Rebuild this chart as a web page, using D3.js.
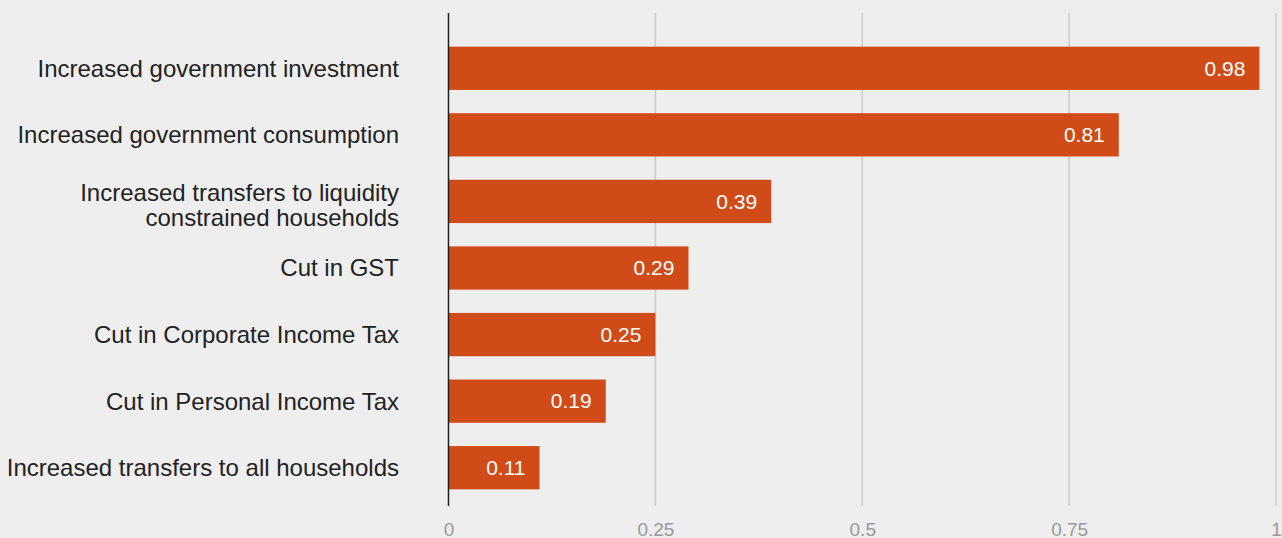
<!DOCTYPE html>
<html>
<head>
<meta charset="utf-8">
<script src="https://cdn.jsdelivr.net/npm/d3@7"></script>
<style>
  body { margin: 0; background: #eeeeee; }
  svg { display: block; font-family: "Liberation Sans", Arial, sans-serif; }
</style>
</head>
<body>
<svg></svg>
<script>
const categories = [
    ["Increased government investment"],
    ["Increased government consumption"],
    ["Increased transfers to liquidity", "constrained households"],
    ["Cut in GST"],
    ["Cut in Corporate Income Tax"],
    ["Cut in Personal Income Tax"],
    ["Increased transfers to all households"]
];
const values = [0.98, 0.81, 0.39, 0.29, 0.25, 0.19, 0.11];
const tickValues = [0, 0.25, 0.5, 0.75, 1];
const tickLabels = ["0", "0.25", "0.5", "0.75", "1"];

const width = 1282, height = 538;

let svg = d3.select('svg')
    .attr('width', width)
    .attr('height', height)
    .style('background-color', '#eeeeee');

let x = d3.scaleLinear()
    .domain([0, 1])
    .range([448.5, 1276]);

let y = d3.scaleBand()
    .domain(d3.range(values.length))
    .range([35, 501])
    .paddingInner(0.35)
    .paddingOuter(0.175);

// grid lines
svg.append('g')
    .selectAll('line')
    .data(tickValues.slice(1))
    .enter().append('line')
    .attr('x1', d => x(d))
    .attr('x2', d => x(d))
    .attr('y1', 13)
    .attr('y2', 506)
    .style('stroke', '#cccccc')
    .style('stroke-width', 1.5);

// x axis labels
let xAxis = svg.append('g')
    .attr('transform', `translate(0, ${522})`)
    .call(d3.axisBottom(x).tickValues(tickValues).tickSize(0).tickPadding(0)
        .tickFormat((d, i) => tickLabels[i]));
xAxis.select('.domain').remove();
xAxis.selectAll('text')
    .attr('font-family', '"Liberation Sans", Arial, sans-serif')
    .attr('font-size', 19)
    .attr('fill', '#999999');

// bars
svg.selectAll('rect.bar')
    .data(values)
    .enter().append('rect')
    .attr('class', 'bar')
    .attr('x', x(0))
    .attr('y', (d, i) => y(i))
    .attr('width', d => x(d) - x(0))
    .attr('height', y.bandwidth())
    .attr('fill', '#d04b17');

// value labels
svg.selectAll('text.value')
    .data(values)
    .enter().append('text')
    .attr('class', 'value')
    .attr('x', d => x(d) - 14)
    .attr('y', (d, i) => y(i) + y.bandwidth() / 2)
    .attr('dy', '0.35em')
    .attr('text-anchor', 'end')
    .attr('font-size', 21)
    .attr('fill', '#ffffff')
    .text(d => d3.format('.2f')(d));

// category labels
let cats = svg.selectAll('text.cat')
    .data(categories)
    .enter().append('text')
    .attr('class', 'cat')
    .attr('text-anchor', 'end')
    .attr('font-size', 24)
    .attr('fill', '#222222');

cats.each(function (lines, i) {
    let cy = y(i) + y.bandwidth() / 2;
    let lineH = 25;
    let top = lines.length > 1 ? cy - (lines.length - 1) * lineH / 2 + 3.5 : cy;
    d3.select(this).selectAll('tspan')
        .data(lines)
        .enter().append('tspan')
        .attr('x', 399)
        .attr('y', (d, j) => top + j * lineH)
        .attr('dy', '0.35em')
        .text(d => d);
});

// zero line
svg.append('line')
    .attr('x1', x(0))
    .attr('x2', x(0))
    .attr('y1', 13)
    .attr('y2', 506)
    .style('stroke', '#222222')
    .style('stroke-width', 1.5);
</script>
</body>
</html>
